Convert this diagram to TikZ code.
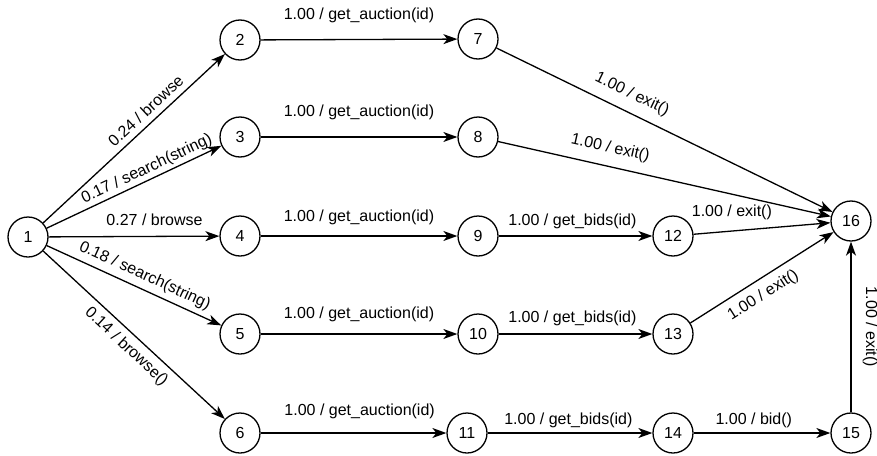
\documentclass[tikz,border=0pt]{standalone}
\usepackage{fontspec}
\setmainfont{Liberation Sans}
\usetikzlibrary{arrows.meta}
\begin{document}
\begin{tikzpicture}[x=1pt,y=-1pt,
  state/.style={circle, draw, line width=1.3pt, minimum size=40pt, inner sep=0pt,
    font=\fontsize{16}{19}\selectfont},
  trans/.style={-{Stealth[length=14pt,width=10pt,inset=4pt]}, line width=1.3pt},
  lbl/.style={font=\fontsize{16}{19}\selectfont, inner sep=0pt,
    text height=11.5pt, text depth=3.5pt}]
\useasboundingbox (0,0) rectangle (877,455);

% states
\node[state] (s1)  at (28,237)  {1};
\node[state] (s2)  at (240,40)  {2};
\node[state] (s3)  at (240,137) {3};
\node[state] (s4)  at (240,236) {4};
\node[state] (s5)  at (240,334) {5};
\node[state] (s6)  at (240,433) {6};
\node[state] (s7)  at (478,39)  {7};
\node[state] (s8)  at (478,137) {8};
\node[state] (s9)  at (478,236) {9};
\node[state] (s10) at (478,334) {10};
\node[state] (s11) at (467,433) {11};
\node[state] (s12) at (673,236) {12};
\node[state] (s13) at (673,334) {13};
\node[state] (s14) at (673,433) {14};
\node[state] (s15) at (851,433) {15};
\node[state] (s16) at (851,221) {16};

% transitions leaving the start state
\draw[trans] (s1) -- node[lbl, sloped, above=2.4pt, pos=0.61] {0.24 / browse} (s2);
\draw[trans] (s1) -- node[lbl, sloped, above=2.3pt, pos=0.60] {0.17 / search(string)} (s3);
\draw[trans] (s1) -- node[lbl, above=6.5pt, pos=0.62] {0.27 / browse} (s4);
\draw[trans] (s1) -- node[lbl, sloped, above=4.8pt, pos=0.53] {0.18 / search(string)} (s5);
\draw[trans] (s1) -- node[lbl, sloped, below=6.1pt, pos=0.51] {0.14 / browse()} (s6);

% get_auction
\draw[trans] (s2) -- node[lbl, above=15.5pt, pos=0.5] {1.00 / get\_auction(id)} (s7);
\draw[trans] (s3) -- node[lbl, above=16.5pt, pos=0.5] {1.00 / get\_auction(id)} (s8);
\draw[trans] (s4) -- node[lbl, above=10.5pt, pos=0.5] {1.00 / get\_auction(id)} (s9);
\draw[trans] (s5) -- node[lbl, above=11.5pt, pos=0.5] {1.00 / get\_auction(id)} (s10);
\draw[trans] (s6) -- node[lbl, above=13.5pt, pos=0.533] {1.00 / get\_auction(id)} (s11);

% get_bids
\draw[trans] (s9)  -- node[lbl, above=6.5pt, pos=0.48] {1.00 / get\_bids(id)} (s12);
\draw[trans] (s10) -- node[lbl, above=7.5pt, pos=0.48] {1.00 / get\_bids(id)} (s13);
\draw[trans] (s11) -- node[lbl, above=4.5pt, pos=0.49] {1.00 / get\_bids(id)} (s14);

% bid
\draw[trans] (s14) -- node[lbl, above=4.5pt, pos=0.44] {1.00 / bid()} (s15);

% exits into the final state
\draw[trans] (s7)  -- node[lbl, sloped, above=9.5pt, pos=0.38] {1.00 / exit()} (s16);
\draw[trans] (s8)  -- node[lbl, sloped, above=9.8pt, pos=0.325] {1.00 / exit()} (s16);
\draw[trans] (s12) -- node[lbl, above=10.5pt, pos=0.28] {1.00 / exit()} (s16);
\draw[trans] (s13) -- node[lbl, sloped, below=7.7pt, pos=0.45] {1.00 / exit()} (s16);
\draw[trans] (s15) -- node[lbl, midway, xshift=19pt, rotate=-90] {1.00 / exit()} (s16);
\end{tikzpicture}
\end{document}
